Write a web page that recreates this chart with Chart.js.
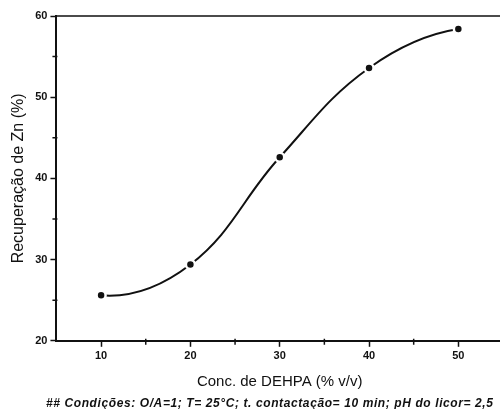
<!DOCTYPE html>
<html>
<head>
<meta charset="utf-8">
<script src="https://cdn.jsdelivr.net/npm/chart.js@4/dist/chart.umd.min.js"></script>
<style>
  body { margin: 0; background: #fff; overflow: hidden; }
  #wrap { position: relative; width: 500px; height: 409px; overflow: hidden; }
  #footnote {
    position: absolute; left: 46px; top: 396px; white-space: nowrap; letter-spacing: 0.6px;
    font: italic bold 12px "Liberation Sans", Arial, sans-serif; color: #111;
  }
</style>
</head>
<body>
<div id="wrap">
  <canvas id="zincChart" width="510" height="409"></canvas>
  <div id="footnote">## Condições: O/A=1; T= 25°C; t. contactação= 10 min; pH do licor= 2,5</div>
</div>
<script>
// DEHPA concentration (% v/v) vs zinc recovery (%)
const concDEHPA = [10, 20, 30, 40, 50];
const recupZn = [25.6, 29.4, 42.6, 53.6, 58.4];

// axis ticks
const xMajor = [10, 20, 30, 40, 50];
const xMinor = [15, 25, 35, 45];
const yMajor = [20, 30, 40, 50, 60];
const yMinor = [25, 35, 45, 55];

const ink = '#111';
const font = { family: '"Liberation Sans", Arial, sans-serif' };

// short ticks between the labelled ones, plus the top frame line
const frameTicks = {
    id: 'frameTicks',
    afterDraw(chart) {
        const { ctx, chartArea, scales } = chart;
        ctx.save();
        ctx.strokeStyle = ink;
        ctx.lineWidth = 1.5;
        ctx.beginPath();
        xMinor.forEach(v => {
            const x = scales.x.getPixelForValue(v);
            ctx.moveTo(x, chartArea.bottom - 2);
            ctx.lineTo(x, chartArea.bottom + 4);
        });
        yMinor.forEach(v => {
            const y = scales.y.getPixelForValue(v);
            ctx.moveTo(chartArea.left + 1, y);
            ctx.lineTo(chartArea.left - 4, y);
        });
        ctx.moveTo(chartArea.left, chartArea.top);
        ctx.lineTo(chartArea.right, chartArea.top);
        ctx.stroke();
        ctx.restore();
    }
};

// the default spline aims the end segments along their chords, which makes the
// ends wobble; use parabolic end tangents instead (m_end = 2*chord - m_next)
const smoothEnds = {
    id: 'smoothEnds',
    beforeDatasetsDraw(chart) {
        const meta = chart.getDatasetMeta(0);
        meta.dataset.updateControlPoints(chart.chartArea, 'x');
        const pts = meta.data;
        const n = pts.length;

        const a = pts[0], b = pts[1];
        const mb = (b.cp2y - b.cp1y) / (b.cp2x - b.cp1x);
        const ma = 2 * (b.y - a.y) / (b.x - a.x) - mb;
        const da = (b.x - a.x) / 3;
        a.cp2x = a.x + da;
        a.cp2y = a.y + ma * da;

        const z = pts[n - 1], y = pts[n - 2];
        const my = (y.cp2y - y.cp1y) / (y.cp2x - y.cp1x);
        const mz = 2 * (z.y - y.y) / (z.x - y.x) - my;
        const dz = (z.x - y.x) / 3;
        z.cp1x = z.x - dz;
        z.cp1y = z.y - mz * dz;
    }
};

const ctx = document.getElementById('zincChart').getContext('2d');
new Chart(ctx, {
    type: 'line',
    data: {
        datasets: [{
            data: concDEHPA.map((c, i) => ({ x: c, y: recupZn[i] })),
            borderColor: ink,
            borderWidth: 2,
            tension: 0.4,
            pointRadius: 4.5,
            pointBackgroundColor: ink,
            pointBorderColor: '#fff',
            pointBorderWidth: 2.5
        }]
    },
    options: {
        responsive: false,
        animation: false,
        layout: { padding: { left: 5, top: 16, right: 6, bottom: 14 } },
        plugins: { legend: { display: false }, tooltip: { enabled: false } },
        scales: {
            x: {
                type: 'linear',
                min: 5,
                max: 55,
                border: { color: ink, width: 2 },
                grid: {
                    drawOnChartArea: false,
                    tickLength: 6,
                    tickWidth: 1.5,
                    color: c => xMajor.includes(c.tick.value) ? ink : 'rgba(0,0,0,0)'
                },
                ticks: {
                    stepSize: 5,
                    autoSkip: false,
                    maxRotation: 0,
                    padding: 3,
                    color: ink,
                    font: { ...font, size: 11, weight: 'bold' },
                    callback: v => xMajor.includes(v) ? v : ''
                },
                title: {
                    display: true,
                    text: 'Conc. de DEHPA (% v/v)',
                    color: ink,
                    font: { ...font, size: 15 },
                    padding: { top: 7, bottom: 4 }
                }
            },
            y: {
                min: 20,
                max: 60,
                border: { color: ink, width: 2 },
                grid: {
                    drawOnChartArea: false,
                    tickLength: 6,
                    tickWidth: 1.5,
                    color: c => yMajor.includes(c.tick.value) ? ink : 'rgba(0,0,0,0)'
                },
                ticks: {
                    stepSize: 5,
                    autoSkip: false,
                    padding: 3,
                    color: ink,
                    font: { ...font, size: 11, weight: 'bold' },
                    callback: v => yMajor.includes(v) ? v : ''
                },
                title: {
                    display: true,
                    text: 'Recuperação de Zn (%)',
                    color: ink,
                    font: { ...font, size: 16 },
                    padding: { top: 4, bottom: 4 }
                }
            }
        }
    },
    plugins: [frameTicks, smoothEnds]
});
</script>
</body>
</html>
